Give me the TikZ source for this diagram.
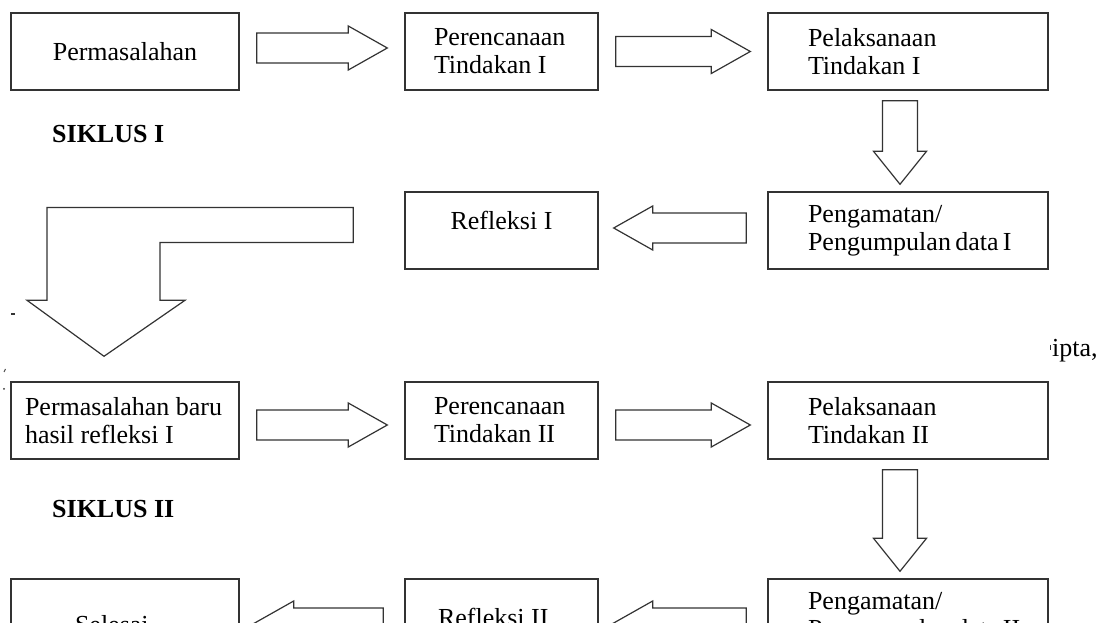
\documentclass[tikz,border=0pt]{standalone}
\usepackage{fontspec}
\setmainfont{Liberation Serif}
\usetikzlibrary{calc}

\begin{document}
\begin{tikzpicture}[x=1pt,y=1pt,
  box/.style={draw=black!80,line width=1.4pt,minimum height=77pt,inner ysep=0pt,font=\fontsize{26}{28}\selectfont,
    execute at begin node={\spaceskip=0pt\relax}},
  colL/.style={box,minimum width=228pt},
  colM/.style={box,minimum width=193pt},
  colR/.style={box,minimum width=280pt,text width=200pt,inner xsep=40pt,align=left},
  blockarrow/.style={draw=black!80,line width=1.2pt,line join=miter,fill=white},
  siklus/.style={anchor=base west,inner sep=0pt,font=\fontsize{26}{28}\selectfont\bfseries}]
\useasboundingbox (0,0) rectangle (1109,622);
\clip (0,0) rectangle (1109,622);
% siklus I
\node[colL,align=center] (prob1) at (125,570.5) {Permasalahan};
\node[colM,text width=135pt,inner xsep=29pt,align=left] (plan1) at (501.5,570.5) {Perencanaan\\Tindakan I};
\node[colR] (act1) at (908,570.5) {Pelaksanaan\\Tindakan I};
\node[colR] (obs1) at (908,391.5) {Pengamatan/\\Pengumpulan~data~I};
\node[colM,align=center,text depth=20pt] (refl1) at (501.5,391.5) {Refleksi I};
\node[siklus] (sik1) at (52,479) {SIKLUS I};
% siklus II
\node[colL,text width=200pt,inner xsep=14pt,align=left] (prob2) at (125,201.5) {Permasalahan~baru\\hasil refleksi I};
\node[colM,text width=135pt,inner xsep=29pt,align=left] (plan2) at (501.5,201.5) {Perencanaan\\Tindakan II};
\node[colR] (act2) at (908,201.5) {Pelaksanaan\\Tindakan II};
\node[colR] (obs2) at (908,4.5) {Pengamatan/\\Pengumpulan~data~II};
\node[colM,text width=127pt,inner xsep=33pt,align=left] (refl2) at (501.5,4.5) {Refleksi II};
\node[colL,text width=100pt,inner xsep=64pt,align=left,text height=33pt] (done) at (125,4.5) {Selesai};
\node[siklus] (sik2) at (52,105) {SIKLUS II};
% block arrows
\foreach \src/\dst/\dy in {prob1/plan1/3.5,plan1/act1/0,prob2/plan2/-4.5,plan2/act2/-4.5}
  \draw[blockarrow] let \p1=($(\src.east)+(17,\dy)$), \p2=($(\dst.west)+(-17,\dy)$) in
    (\x1,\y1+15) -- (\x2-39,\y1+15) -- (\x2-39,\y1+22) -- (\x2,\y1) -- (\x2-39,\y1-22) -- (\x2-39,\y1-15) -- (\x1,\y1-15) -- cycle;
\foreach \src/\dst/\dy in {obs1/refl1/2.5,obs2/refl2/-5.5,refl2/done/-5.5}
  \draw[blockarrow] let \p1=($(\src.west)+(-21,\dy)$), \p2=($(\dst.east)+(15,\dy)$) in
    (\x1,\y1+15) -- (\x2+39,\y1+15) -- (\x2+39,\y1+22) -- (\x2,\y1) -- (\x2+39,\y1-22) -- (\x2+39,\y1-15) -- (\x1,\y1-15) -- cycle;
\foreach \src/\dst in {act1/obs1,act2/obs2}
  \draw[blockarrow] let \p1=($(\src.south)+(-8,-10)$), \p2=($(\dst.north)+(-8,7)$) in
    (\x1-17.5,\y1) -- (\x1-17.5,\y2+33) -- (\x1-26.5,\y2+33) -- (\x2,\y2) -- (\x1+26.5,\y2+33) -- (\x1+17.5,\y2+33) -- (\x1+17.5,\y1) -- cycle;
\draw[blockarrow] let \p1=($(refl1.west)+(-51,5.5)$), \p2=($(prob2.north)+(-21,25)$) in
  (\x1,\y1+17.5) -- (\x2-57,\y1+17.5) -- (\x2-57,\y2+56) -- (\x2-77,\y2+56) -- (\x2,\y2) -- (\x2+81,\y2+56) -- (\x2+56,\y2+56) -- (\x2+56,\y1-17.5) -- (\x1,\y1-17.5) -- cycle;
% remnants at the edges
\node[anchor=base west,inner sep=0pt,font=\fontsize{26}{28}\selectfont] (cipta) at (1052,265) {ipta,};
\draw[black!80,line width=1pt] (1050.5,277) -- (1050.5,272);
\draw[black!80,line width=2pt] (11,307.5) -- (15,307.5);
\draw[black!70,line width=1pt] (4,250) -- (5.5,253);
\fill[black!80] (4,233) circle (1);
\end{tikzpicture}
\end{document}
